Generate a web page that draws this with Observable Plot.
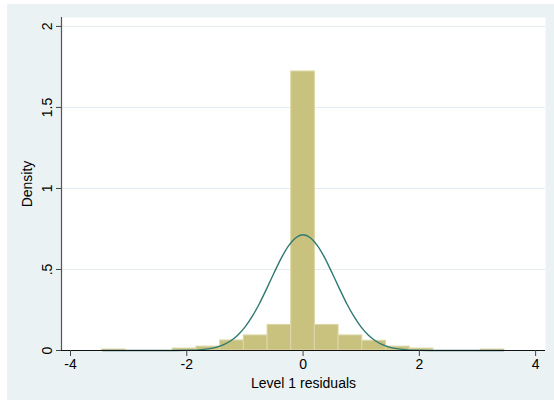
<!DOCTYPE html>
<html>
<head>
<meta charset="utf-8">
<script src="https://cdn.jsdelivr.net/npm/d3@7"></script>
<script src="https://cdn.jsdelivr.net/npm/@observablehq/plot@0.6"></script>
<style>
  html, body { margin: 0; padding: 0; background: #ffffff; }
  #wrap { position: relative; width: 554px; height: 400px; overflow: hidden; }
  #bg { position: absolute; left: 7px; top: 4px; width: 547px; height: 396px; background: #eaf2f3; }
  #chart { position: absolute; left: 0; top: 0; }
</style>
</head>
<body>
<div id="wrap"><div id="bg"></div><div id="chart"></div></div>
<script>
// Histogram bins (centers) and densities
const binCenters = [-3.26, -2.037, -1.63, -1.222, -0.815, -0.407, 0, 0.407, 0.815, 1.222, 1.63, 2.037, 3.26];
const binDensity = [0.006, 0.012, 0.024, 0.062, 0.093, 0.158, 1.722, 0.158, 0.093, 0.060, 0.024, 0.012, 0.006];
const binWidth = 0.4075;

// Normal density curve points
const curveX = [-3.45, -2.5, -2.25, -2, -1.75, -1.5, -1.375, -1.25, -1.125, -1, -0.875, -0.75, -0.625, -0.5, -0.375, -0.25, -0.125, 0,
                0.125, 0.25, 0.375, 0.5, 0.625, 0.75, 0.875, 1, 1.125, 1.25, 1.375, 1.5, 1.75, 2, 2.25, 2.5, 3.45];
const curveY = [0, 0, 0.0002, 0.0012, 0.0053, 0.0195, 0.0347, 0.0586, 0.0943, 0.144, 0.210, 0.290, 0.382, 0.478, 0.570, 0.646, 0.696, 0.714,
                0.696, 0.646, 0.570, 0.478, 0.382, 0.290, 0.210, 0.144, 0.0943, 0.0586, 0.0347, 0.0195, 0.0053, 0.0012, 0.0002, 0, 0];

const xTicks = [-4, -2, 0, 2, 4];
const yTicks = [0, 0.5, 1, 1.5, 2];
const xDomain = [-4.155, 4.17];
const yDomain = [0, 2.055];

const bins = binCenters.map((c, i) => ({x1: c - binWidth / 2, x2: c + binWidth / 2, density: binDensity[i]}));
const curve = curveX.map((x, i) => ({x, y: curveY[i]}));

const chart = Plot.plot({
  width: 554,
  height: 400,
  marginLeft: 61,
  marginRight: 9,
  marginTop: 17,
  marginBottom: 50,
  x: {domain: xDomain},
  y: {domain: yDomain},
  style: {background: "transparent", fontFamily: "'Liberation Sans', Arial, Helvetica, sans-serif", fontSize: "14px", color: "#000"},
  marks: [
    Plot.frame({fill: "white", stroke: null}),
    Plot.gridY(yTicks.slice(1), {stroke: "#e3ecef", strokeOpacity: 1, strokeWidth: 1}),
    Plot.rectY(bins, {x1: "x1", x2: "x2", y: "density", fill: "#c9c27f", stroke: "#dcd7a8", strokeWidth: 1}),
    Plot.line(curve, {x: "x", y: "y", curve: "monotone-x", stroke: "#2e7a70", strokeWidth: 1.4}),
    Plot.ruleY([yDomain[0]], {stroke: "#111", strokeWidth: 1.2}),
    Plot.ruleX([xDomain[0]], {stroke: "#555", strokeWidth: 1.2}),
    Plot.axisX({ticks: xTicks, tickSize: 6, tickPadding: 3, stroke: "#444", tickFormat: d => String(d),
      label: "Level 1 residuals", labelAnchor: "center", labelArrow: "none", labelOffset: 37}),
    Plot.axisY({ticks: yTicks, tickSize: 5, tickPadding: 5, tickRotate: -90, stroke: "#444",
      tickFormat: d => d === 0 ? "0" : String(d).replace(/^0/, ""),
      label: "Density", labelAnchor: "center", labelArrow: "none", labelOffset: 39})
  ]
});
document.getElementById("chart").appendChild(chart);
</script>
</body>
</html>
